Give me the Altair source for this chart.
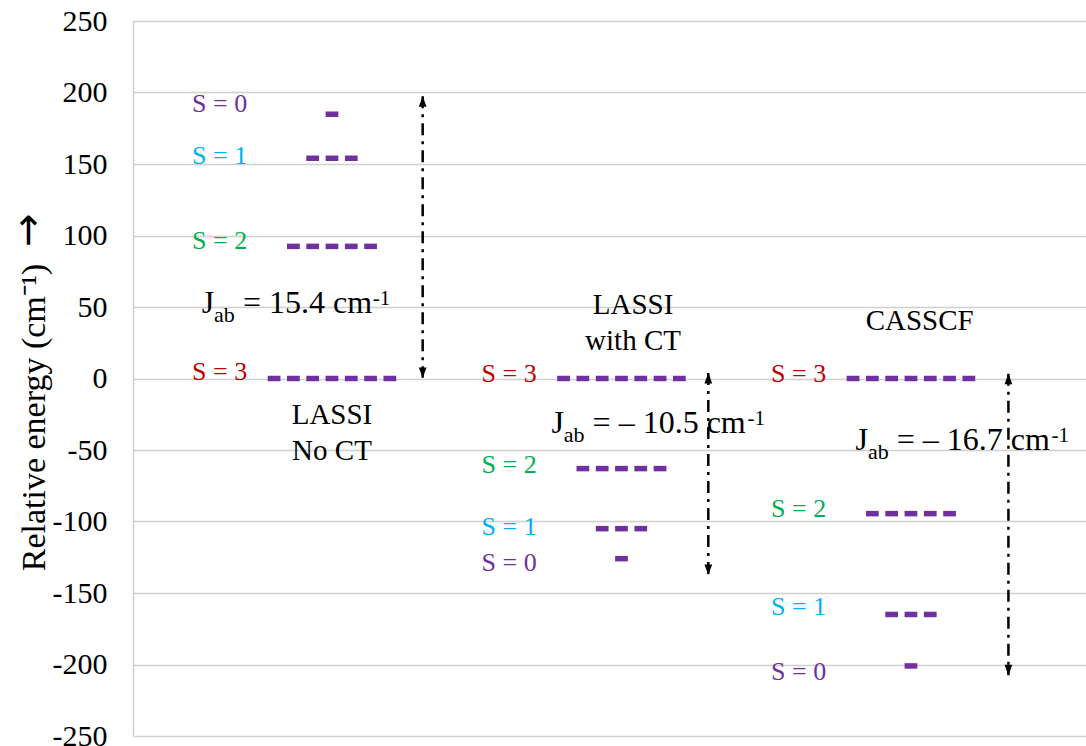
import altair as alt
import pandas as pd

# Spin ladders from three methods; energies relative to the S = 3 level (cm-1)
methods = ["LASSI No CT", "LASSI with CT", "CASSCF"]
spins = [3, 2, 1, 0]
energy_no_ct = [0, 92.4, 154.0, 184.8]
energy_ct = [0, -63.0, -105.0, -126.0]
energy_casscf = [0, -94.5, -165.0, -201.0]
energies = [energy_no_ct, energy_ct, energy_casscf]

# where the "S = n" tags sit in energy units
label_y_no_ct = [4.3, 96.4, 155.6, 192.2]
label_y_ct = [3.1, -60.6, -103.5, -128.8]
label_y_casscf = [3.1, -91.3, -160.0, -205.5]
label_ys = [label_y_no_ct, label_y_ct, label_y_casscf]

# J_ab annotations
jab_values = ["15.4", "\u2013 10.5", "\u2013 16.7"]
jab_x_offset = [-6.75, -3.63, -2.87]
jab_y = [45.9, -38.0, -49.9]
jab_sup_dx = [171, 196, 196]  # where the "-1" exponent starts after "cm"

# double arrows spanning each ladder (top tip, bottom tip)
arrow_x_offset = [4.7, 4.5, 5.05]
arrow_top = [197.3, 3.8, 3.3]
arrow_bottom = [0.5, -137.3, -207.5]

# method captions
captions = ["LASSI\nNo CT", "LASSI\nwith CT", "CASSCF"]
caption_x_offset = [0.0, 0.6, 0.45]
caption_y = [-25.4, 51.5, 39.9]

spin_colors = ["#c00000", "#00b050", "#00b0f0", "#7030a0"]
level_color = "#7030a0"
group_step = 15  # horizontal distance between ladders, in sub-level units
serif = "Liberation Serif"

rows = []
for g, ladder in enumerate(energies):
    c = g * group_step
    for s, e in zip(spins, ladder):
        for m in range(-s, s + 1):
            rows.append({"x": c + m - 0.33, "x2": c + m + 0.33, "E": e})
levels = pd.DataFrame(rows)

tags = pd.DataFrame([
    {"x": g * group_step - 7.25, "y": y, "text": f"S = {s}", "S": str(s)}
    for g in range(3) for s, y in zip(spins, label_ys[g])
])

jab = pd.DataFrame({
    "x": [g * group_step + o for g, o in enumerate(jab_x_offset)],
    "y": jab_y,
    "value": jab_values,
})
jab["main"] = "= " + jab["value"] + " cm"

arrows = pd.DataFrame({
    "x": [g * group_step + o for g, o in enumerate(arrow_x_offset)],
    "top": arrow_top,
    "bottom": arrow_bottom,
})

caps = pd.DataFrame({
    "x": [g * group_step + o for g, o in enumerate(caption_x_offset)],
    "y": caption_y,
    "text": captions,
})

xscale = alt.Scale(domain=[-10.31, 39.07], nice=False, zero=False)
yscale = alt.Scale(domain=[-250, 250], nice=False)
X = lambda f: alt.X(f, type="quantitative", scale=xscale, axis=None)

yaxis = alt.Axis(
    values=list(range(-250, 251, 50)), grid=True, gridColor="#d0d0d0", gridWidth=1.5,
    domainColor="#d0d0d0", domainWidth=1.5, ticks=False,
    labelFont=serif, labelFontSize=30, labelColor="#000000", labelPadding=26,
    labelExpr="'' + datum.value",
    title="Relative energy (cm\u207b\u00b9)", titleFont=serif, titleFontSize=34,
    titleFontWeight="normal", titleColor="#000000", titleX=-82, titleY=396,
    titleBaseline="bottom", titleAngle=270,
)

level_layer = alt.Chart(levels).mark_rule(
    color=level_color, strokeWidth=5.5, strokeCap="butt"
).encode(
    x=X("x"), x2="x2", y=alt.Y("E:Q", scale=yscale, axis=yaxis)
)

# upward arrow that continues the axis title
title_arrow = alt.Chart(pd.DataFrame({"t": ["\u2192"]})).mark_text(
    font="DejaVu Sans", fontSize=40, angle=270, align="center", baseline="middle",
    color="#000000"
).encode(x=alt.value(-104), y=alt.value(209), text="t:N")

tag_layer = alt.Chart(tags).mark_text(
    font=serif, fontSize=26, align="left", baseline="middle"
).encode(
    x=X("x"), y=alt.Y("y:Q", scale=yscale), text="text:N",
    color=alt.Color("S:N", scale=alt.Scale(domain=["3", "2", "1", "0"], range=spin_colors), legend=None),
)

cap_layer = alt.Chart(caps).mark_text(
    font=serif, fontSize=29, align="center", baseline="middle", lineBreak="\n",
    lineHeight=36, color="#000000"
).encode(x=X("x"), y=alt.Y("y:Q", scale=yscale), text="text:N")

# J_ab = ... cm^-1 built from pieces: J, subscript "ab", the value, superscript "-1"
jab_layers = []
for i in range(len(jab)):
    base = alt.Chart(jab.iloc[[i]]).encode(x=X("x"), y=alt.Y("y:Q", scale=yscale))
    jab_layers += [
        base.mark_text(font=serif, fontSize=32, align="left", baseline="alphabetic",
                       color="#000000").encode(text=alt.value("J")),
        base.mark_text(font=serif, fontSize=22, align="left", baseline="alphabetic",
                       dx=12.4, dy=9, color="#000000").encode(text=alt.value("ab")),
        base.mark_text(font=serif, fontSize=32, align="left", baseline="alphabetic",
                       dx=41.2, color="#000000").encode(text="main:N"),
        base.mark_text(font=serif, fontSize=21, align="left", baseline="alphabetic",
                       dx=jab_sup_dx[i], dy=-8, color="#000000").encode(text=alt.value("-1")),
    ]

arrow_line = alt.Chart(arrows).mark_rule(
    color="#000000", strokeWidth=2.5, strokeDash=[12, 6, 3, 6]
).encode(x=X("x"), y=alt.Y("top:Q", scale=yscale), y2="bottom:Q")

head_up = alt.Chart(arrows).mark_point(
    shape="M0,0L0.6,1.6L-0.6,1.6Z", size=169, filled=True, opacity=1,
    color="#000000", strokeWidth=0
).encode(x=X("x"), y=alt.Y("top:Q", scale=yscale))
head_down = alt.Chart(arrows).mark_point(
    shape="M0,0L0.6,-1.6L-0.6,-1.6Z", size=169, filled=True, opacity=1,
    color="#000000", strokeWidth=0
).encode(x=X("x"), y=alt.Y("bottom:Q", scale=yscale))

chart = alt.layer(
    level_layer, arrow_line, head_up, head_down, tag_layer, cap_layer, title_arrow, *jab_layers
).properties(
    width=953, height=715, autosize="none",
    padding={"left": 133, "top": 21, "right": 0, "bottom": 10},
    background="#ffffff",
).configure_view(stroke=None)

chart.save("out.html", embed_options={"renderer": "svg", "actions": False})
